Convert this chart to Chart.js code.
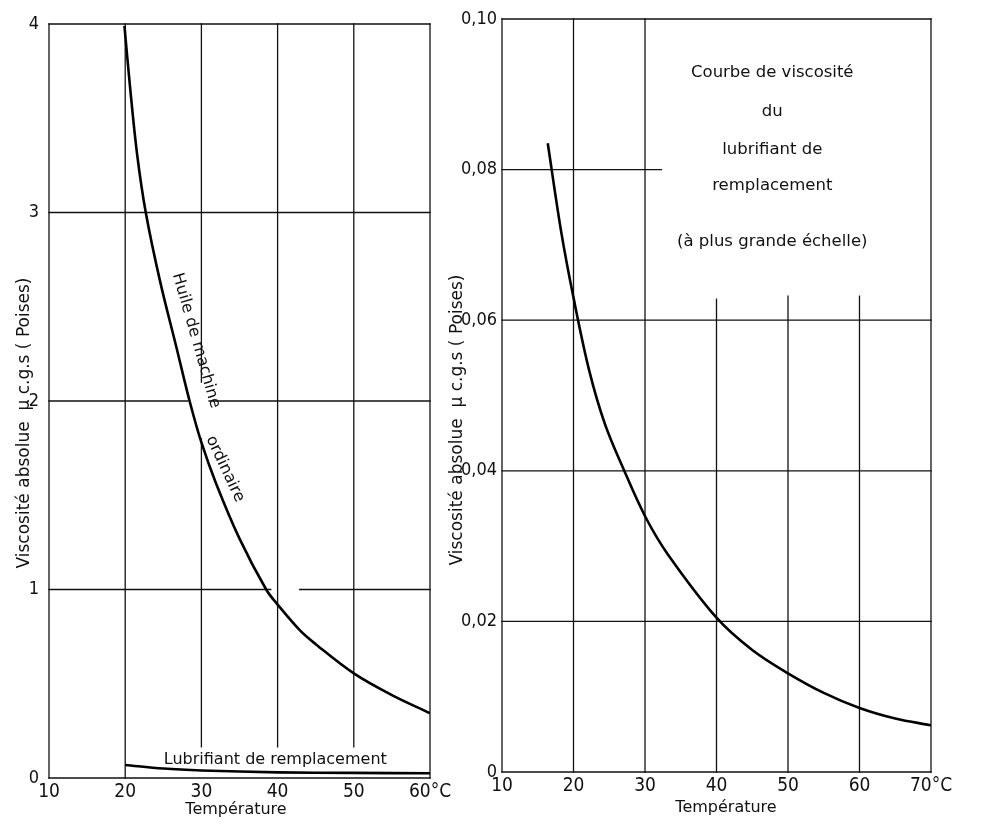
<!DOCTYPE html>
<html>
<head>
<meta charset="utf-8">
<script src="https://cdn.jsdelivr.net/npm/chart.js@4"></script>
<style>
  html, body { margin: 0; padding: 0; background: #fff; }
  body { width: 998px; height: 826px; position: relative; overflow: hidden; }
  #gauche { position: absolute; left: 0; top: 0; }
  #droite { position: absolute; left: 440px; top: 0; }
</style>
</head>
<body>
<canvas id="gauche" width="470" height="826"></canvas>
<canvas id="droite" width="558" height="826"></canvas>
<script>
// Huile de machine ordinaire (graphique de gauche)
const huileTemp = [19.9, 20.65, 21.56, 22.7, 24.55, 26.75, 28.45, 30, 31.95, 35, 38.5, 40, 43, 45, 50, 55, 60];
const huileVisc = [3.99, 3.66, 3.31, 3.0, 2.64, 2.28, 2.0, 1.78, 1.56, 1.27, 1.0, 0.92, 0.78, 0.71, 0.555, 0.44, 0.344];

// Lubrifiant de remplacement, à l'échelle du graphique de gauche
const lubGaucheTemp = [20, 25, 30, 40, 50, 60];
const lubGaucheVisc = [0.069, 0.05, 0.04, 0.03, 0.027, 0.025];

// Lubrifiant de remplacement, à plus grande échelle (graphique de droite)
const lubTemp = [16.4, 18.25, 20, 22.2, 24.4, 27.1, 30.1, 33.2, 40, 45, 50, 55, 60, 65, 70];
const lubVisc = [0.0835, 0.0719, 0.063, 0.0533, 0.0462, 0.040, 0.0338, 0.0289, 0.0205, 0.0162, 0.0131, 0.0105, 0.0085, 0.0071, 0.0062];

// graduations
const tempGauche = [10, 20, 30, 40, 50, 60];
const tempDroite = [10, 20, 30, 40, 50, 60, 70];
const viscGauche = [0, 1, 2, 3, 4];
const viscDroite = [0, 0.02, 0.04, 0.06, 0.08, 0.10];

const POLICE = "'DejaVu Sans', sans-serif";
const POLICE_CHIFFRES = "'DejaVu Sans Condensed', sans-serif";
const ENCRE = '#111';

// traits du quadrillage (en unités des axes) : [x0, y0, x1, y1]
const grilleGauche = [
  [10, 0, 10, 4], [60, 0, 60, 4], [20, 0, 20, 4],
  [30, 0.165, 30, 1.80], [30, 2.10, 30, 4],
  [40, 0.165, 40, 4], [50, 0.165, 50, 4],
  [10, 0, 60, 0], [10, 4, 60, 4], [10, 3, 60, 3],
  [10, 2, 28.2, 2], [31.0, 2, 60, 2],
  [10, 1, 39.1, 1], [42.9, 1, 60, 1]
];
const grilleDroite = [
  [10, 0, 10, 0.1], [70, 0, 70, 0.1], [20, 0, 20, 0.1], [30, 0, 30, 0.1],
  [40, 0, 40, 0.0628], [50, 0, 50, 0.0632], [60, 0, 60, 0.0632],
  [10, 0, 70, 0], [10, 0.1, 70, 0.1], [10, 0.08, 32.3, 0.08],
  [10, 0.06, 70, 0.06], [10, 0.04, 70, 0.04], [10, 0.02, 70, 0.02]
];

function points(xs, ys) {
  return xs.map((x, i) => ({ x: x, y: ys[i] }));
}

function courbe(xs, ys) {
  return {
    data: points(xs, ys),
    borderColor: '#000',
    borderWidth: 2.6,
    pointRadius: 0,
    fill: false,
    tension: 0.35
  };
}

// dessine le quadrillage et les textes libres
function habillage(grille, textes) {
  return {
    id: 'habillage',
    beforeDatasetsDraw(chart) {
      const ctx = chart.ctx;
      const sx = chart.scales.x, sy = chart.scales.y;
      ctx.save();
      ctx.strokeStyle = ENCRE;
      ctx.lineWidth = 1.3;
      ctx.lineCap = 'square';
      grille.forEach(([x0, y0, x1, y1]) => {
        ctx.beginPath();
        ctx.moveTo(sx.getPixelForValue(x0), sy.getPixelForValue(y0));
        ctx.lineTo(sx.getPixelForValue(x1), sy.getPixelForValue(y1));
        ctx.stroke();
      });
      ctx.restore();
    },
    afterDraw(chart) {
      const ctx = chart.ctx;
      const sx = chart.scales.x, sy = chart.scales.y;
      ctx.save();
      ctx.fillStyle = ENCRE;
      ctx.textAlign = 'center';
      ctx.textBaseline = 'middle';
      textes.forEach(t => {
        ctx.save();
        const px = t.data ? sx.getPixelForValue(t.x) : t.x;
        const py = t.data ? sy.getPixelForValue(t.y) : t.y;
        ctx.translate(px, py);
        ctx.rotate(t.angle * Math.PI / 180);
        ctx.font = t.taille + 'px ' + POLICE;
        ctx.fillText(t.texte, 0, 0);
        ctx.restore();
      });
      ctx.restore();
    }
  };
}

function options(xmin, xmax, ymin, ymax, pas, etiqX, etiqY, largeurY, hauteurX, ecartY, pad) {
  return {
    responsive: false,
    animation: false,
    layout: { padding: pad },
    plugins: { legend: { display: false }, tooltip: { enabled: false } },
    scales: {
      x: {
        type: 'linear', min: xmin, max: xmax,
        afterBuildTicks: s => { s.ticks = etiqX.map(v => ({ value: v })); },
        afterFit: s => { s.height = hauteurX; },
        grid: { display: false, drawTicks: false }, border: { display: false },
        ticks: {
          padding: 3, color: ENCRE, maxRotation: 0,
          font: { family: POLICE_CHIFFRES, size: 19 },
          callback: v => v === xmax ? v + '°C' : String(v)
        }
      },
      y: {
        type: 'linear', min: ymin, max: ymax,
        afterBuildTicks: s => { s.ticks = etiqY.map(v => ({ value: v })); },
        afterFit: s => { s.width = largeurY; },
        grid: { display: false, drawTicks: false }, border: { display: false },
        ticks: {
          padding: ecartY, color: ENCRE,
          font: { family: POLICE_CHIFFRES, size: 18 },
          callback: v => v === 0 ? '0' : (pas < 1 ? v.toFixed(2).replace('.', ',') : String(v))
        }
      }
    }
  };
}

const titreY = 'Viscosité absolue  µ c.g.s ( Poises)';

new Chart(document.getElementById('gauche'), {
  type: 'line',
  data: { datasets: [courbe(huileTemp, huileVisc), courbe(lubGaucheTemp, lubGaucheVisc)] },
  options: options(10, 60, 0, 4, 1, tempGauche, viscGauche, 49, 48, 10,
    { top: 24, right: 40, left: 0, bottom: 0 }),
  plugins: [habillage(grilleGauche, [
    { texte: 'Huile de machine', x: 29.3, y: 2.32, data: true, angle: 74, taille: 16 },
    { texte: 'ordinaire', x: 33.1, y: 1.64, data: true, angle: 65, taille: 16 },
    { texte: 'Lubrifiant de remplacement', x: 39.7, y: 0.095, data: true, angle: 0, taille: 16 },
    { texte: titreY, x: 25, y: 423, angle: -90, taille: 17 },
    { texte: 'Température', x: 236, y: 810, angle: 0, taille: 16 }
  ])]
});

new Chart(document.getElementById('droite'), {
  type: 'line',
  data: { datasets: [courbe(lubTemp, lubVisc)] },
  options: options(10, 70, 0, 0.10, 0.02, tempDroite, viscDroite, 62, 54, 5,
    { top: 19, right: 67, left: 0, bottom: 0 }),
  plugins: [habillage(grilleDroite, [
    { texte: 'Courbe de viscosité', x: 47.8, y: 0.0928, data: true, angle: 0, taille: 16.5 },
    { texte: 'du', x: 47.8, y: 0.0877, data: true, angle: 0, taille: 16.5 },
    { texte: 'lubrifiant de', x: 47.8, y: 0.0826, data: true, angle: 0, taille: 16.5 },
    { texte: 'remplacement', x: 47.8, y: 0.0778, data: true, angle: 0, taille: 16.5 },
    { texte: '(à plus grande échelle)', x: 47.8, y: 0.0704, data: true, angle: 0, taille: 16.5 },
    { texte: titreY, x: 18, y: 420, angle: -90, taille: 17 },
    { texte: 'Température', x: 286, y: 808, angle: 0, taille: 16 }
  ])]
});
</script>
</body>
</html>
